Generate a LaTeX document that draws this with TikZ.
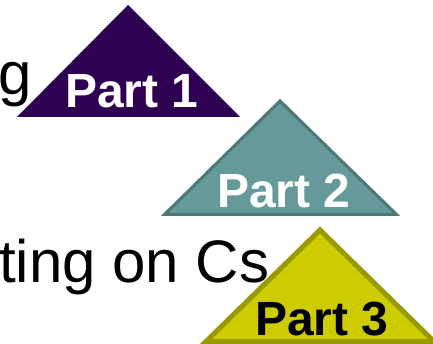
\documentclass[tikz,border=0pt]{standalone}
\usepackage{fontspec}
\setmainfont{Liberation Sans}
\definecolor{purp}{RGB}{46,0,82}
\definecolor{tealfill}{RGB}{102,153,153}
\definecolor{tealedge}{RGB}{77,120,120}
\definecolor{olivefill}{RGB}{204,204,0}
\definecolor{oliveedge}{RGB}{153,153,0}
\tikzset{
  bigtext/.style={inner sep=0pt, anchor=base west, font=\fontsize{60}{60}\selectfont, text=black},
  partlabel/.style={inner sep=0pt, anchor=base west, font=\fontsize{48}{48}\selectfont\bfseries},
}
\begin{document}
\begin{tikzpicture}[x=1pt,y=-1pt]
\useasboundingbox (0,0) rectangle (433,344);
\fill[white] (0,0) rectangle (433,344);
% background text
\node[bigtext] (g) at (-2,95) {g};
\node[bigtext] (ting) at (-1,282) {ting on Cs};
% triangles
\fill[purp] (128,5) -- (240,117) -- (17,117) -- cycle;
\filldraw[fill=tealfill, draw=tealedge, line width=3pt, line join=miter] (280,101) -- (396.5,214.5) -- (164.5,214.5) -- cycle;
\filldraw[fill=olivefill, draw=oliveedge, line width=5pt, line join=miter] (320,230) -- (434,341.5) -- (206,341.5) -- cycle;
% labels
\node[partlabel, text=white] (p1) at (65,108) {Part 1};
\node[partlabel, text=white] (p2) at (217,208) {Part 2};
\node[partlabel, text=black] (p3) at (255,335) {Part 3};
\end{tikzpicture}
\end{document}
